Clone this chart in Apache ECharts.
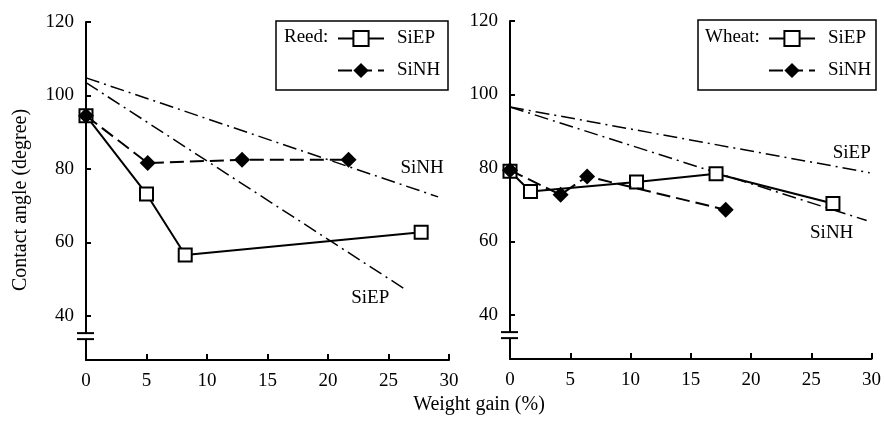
<!DOCTYPE html>
<html>
<head>
<meta charset="utf-8">
<script src="https://cdn.jsdelivr.net/npm/echarts@6/dist/echarts.min.js"></script>
<style>
  html, body { margin: 0; padding: 0; background: #fff; }
  #chart { width: 884px; height: 425px; }
</style>
</head>
<body>
<div id="chart"></div>
<script>
// Contact angle vs. weight gain, reed and wheat, treated with SiEP and SiNH
const yTickValues = [40, 60, 80, 100, 120];

// Reed panel: [weight gain %, contact angle deg]
const reedSiEP = [[0, 94.5], [5, 73.2], [8.2, 56.6], [27.7, 62.8]];
const reedSiNH = [[0, 94.5], [5.1, 81.6], [12.9, 82.5], [21.7, 82.5]];
const reedTrendSiNH = [[0, 104.8], [29.1, 72.4]];
const reedTrendSiEP = [[0, 103.5], [26.3, 47.4]];

// Wheat panel
const wheatSiEP = [[0, 79.1], [1.7, 73.6], [10.5, 76.2], [17.1, 78.4], [26.8, 70.3]];
const wheatSiNH = [[0, 79.4], [4.2, 72.7], [6.4, 77.7], [17.9, 68.6]];
const wheatTrendSiEP = [[0, 96.6], [29.85, 78.7]];
const wheatTrendSiNH = [[0, 96.6], [29.6, 65.7]];

const FONT = "'Liberation Serif', 'DejaVu Serif', serif";
const INK = '#000';

const chart = echarts.init(document.getElementById('chart'), null, { renderer: 'canvas' });

function xAxisFor(gridIndex) {
  return {
    type: 'value', gridIndex, min: 0, max: 30, interval: 5,
    axisLine: { show: true, onZero: false, lineStyle: { color: INK, width: 2 } },
    axisTick: { show: true, inside: true, length: 6, lineStyle: { color: INK, width: 2 } },
    axisLabel: { color: INK, fontFamily: FONT, fontSize: 19, margin: 12 },
    splitLine: { show: false }
  };
}
function yAxisFor(gridIndex) {
  return {
    type: 'value', gridIndex, min: 28, max: 120,
    axisLine: { show: true, onZero: false, lineStyle: { color: INK, width: 2 } },
    axisTick: { show: true, inside: true, length: 5, customValues: yTickValues, lineStyle: { color: INK, width: 2 } },
    axisLabel: { color: INK, fontFamily: FONT, fontSize: 19, margin: 12, customValues: yTickValues },
    splitLine: { show: false }
  };
}

const squareStyle = { color: '#fff', borderColor: INK, borderWidth: 2 };
const diamondStyle = { color: INK, borderColor: INK, borderWidth: 0 };

function dataSeries(name, data, idx, kind) {
  const isEP = kind === 'EP';
  return {
    name, type: 'line', xAxisIndex: idx, yAxisIndex: idx, data,
    symbol: isEP ? 'rect' : 'diamond',
    symbolSize: isEP ? 13 : 16,
    itemStyle: isEP ? squareStyle : diamondStyle,
    lineStyle: { color: INK, width: 2, type: isEP ? 'solid' : [14, 6] },
    clip: false, animation: false, z: isEP ? 3 : 4
  };
}
function trendSeries(name, data, idx, text, offset) {
  return {
    name, type: 'line', xAxisIndex: idx, yAxisIndex: idx, data,
    symbol: 'none', clip: false, animation: false, z: 2,
    lineStyle: { color: INK, width: 1.5, type: [14, 5, 2, 5] },
    endLabel: {
      show: true, formatter: text, color: INK, fontFamily: FONT, fontSize: 19,
      align: 'center', verticalAlign: 'middle', distance: 0, offset
    }
  };
}

function legendFor(left) {
  return {
    orient: 'vertical', left, top: 24, itemWidth: 46, itemHeight: 19, itemGap: 13,
    data: ['SiEP', 'SiNH'], selectedMode: false,
    textStyle: { color: INK, fontFamily: FONT, fontSize: 19, padding: [0, 0, 0, 8] }
  };
}

chart.setOption({
  backgroundColor: '#fff',
  animation: false,
  grid: [
    { left: 86, right: 435, top: 22, bottom: 65 },
    { left: 510, right: 9, top: 21, bottom: 66 }
  ],
  xAxis: [xAxisFor(0), xAxisFor(1)],
  yAxis: [yAxisFor(0), yAxisFor(1)],
  legend: [legendFor(332), legendFor(763)],
  series: [
    trendSeries('reed trend SiNH', reedTrendSiNH, 0, 'SiNH', [-16, -29]),
    trendSeries('reed trend SiEP', reedTrendSiEP, 0, 'SiEP', [-34, 9]),
    dataSeries('SiEP', reedSiEP, 0, 'EP'),
    dataSeries('SiNH', reedSiNH, 0, 'NH'),
    trendSeries('wheat trend SiEP', wheatTrendSiEP, 1, 'SiEP', [-18, -20]),
    trendSeries('wheat trend SiNH', wheatTrendSiNH, 1, 'SiNH', [-35, 13]),
    dataSeries('SiEP', wheatSiEP, 1, 'EP'),
    dataSeries('SiNH', wheatSiNH, 1, 'NH')
  ]
});

// Legend frames, axis titles and the broken-axis marks
const breakValue = 34.5;
const graphics = [
  { type: 'rect', shape: { x: 276, y: 21, width: 172, height: 69 }, style: { fill: 'none', stroke: INK, lineWidth: 1.5 }, z: 10 },
  { type: 'rect', shape: { x: 698, y: 20, width: 178, height: 70 }, style: { fill: 'none', stroke: INK, lineWidth: 1.5 }, z: 10 },
  { type: 'text', x: 284, y: 37, style: { text: 'Reed:', fill: INK, font: '19px ' + FONT, textAlign: 'left', textVerticalAlign: 'middle' }, z: 10 },
  { type: 'text', x: 705, y: 37, style: { text: 'Wheat:', fill: INK, font: '19px ' + FONT, textAlign: 'left', textVerticalAlign: 'middle' }, z: 10 },
  { type: 'text', x: 479, y: 405, style: { text: 'Weight gain (%)', fill: INK, font: '20px ' + FONT, textAlign: 'center', textVerticalAlign: 'middle' }, z: 10 },
  { type: 'text', x: 21, y: 200, rotation: Math.PI / 2, style: { text: 'Contact angle (degree)', fill: INK, font: '20px ' + FONT, textAlign: 'center', textVerticalAlign: 'middle' }, z: 10 }
];
[0, 1].forEach(function (i) {
  const p = chart.convertToPixel({ xAxisIndex: i, yAxisIndex: i }, [0, breakValue]);
  const x = p[0], y = p[1];
  graphics.push({ type: 'rect', shape: { x: x - 3, y: y - 3, width: 6, height: 6 }, style: { fill: '#fff' }, z: 11 });
  graphics.push({ type: 'line', shape: { x1: x - 9, y1: y - 3, x2: x + 8, y2: y - 3 }, style: { stroke: INK, lineWidth: 2 }, z: 12 });
  graphics.push({ type: 'line', shape: { x1: x - 9, y1: y + 3, x2: x + 8, y2: y + 3 }, style: { stroke: INK, lineWidth: 2 }, z: 12 });
});
chart.setOption({ graphic: graphics });
</script>
</body>
</html>
